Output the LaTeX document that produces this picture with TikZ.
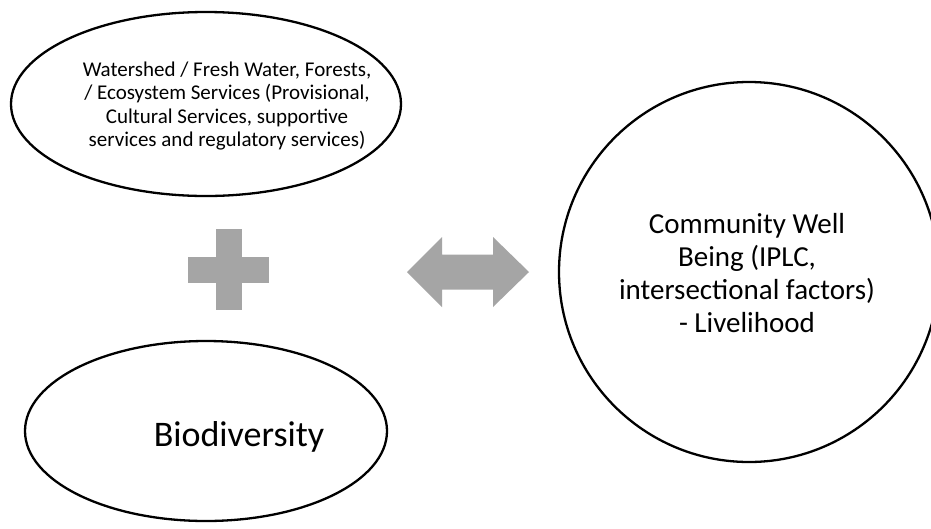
\documentclass[tikz,border=0pt]{standalone}
\usepackage{fontspec}
\setmainfont{Carlito}
\usetikzlibrary{shapes.geometric}
\definecolor{sagray}{HTML}{A5A5A5}
\tikzset{
  outline/.style={draw=black, line width=2.3pt, fill=white, inner sep=0pt},
  oval/.style={outline, ellipse},
  rund/.style={outline, circle},
  txt/.style={align=center, inner sep=0pt, text=black},
  symb/.style={fill=sagray, draw=none}
}
\begin{document}
\begin{tikzpicture}[x=1pt,y=-1pt]
\useasboundingbox (0,0) rectangle (931,528);
\clip (0,0) rectangle (931,528);
\fill[white] (0,0) rectangle (931,528);
% top ellipse
\node[oval, minimum width=390pt, minimum height=184pt] (top) at (206,104) {};
\node[txt, font=\fontsize{21}{23.4}\selectfont] (toptext) at (227,106)
  {Watershed / Fresh Water, Forests,\\/ Ecosystem Services (Provisional,\\Cultural Services, supportive\\services and regulatory services)};
% bottom ellipse
\node[oval, minimum width=362pt, minimum height=180pt] (bot) at (206,431) {};
\node[txt, font=\fontsize{36}{43}\selectfont, anchor=base] (bottext) at (239,446) {Biodiversity};
% circle
\node[rund, minimum size=380pt] (circ) at (749,272) {};
\node[txt, font=\fontsize{29}{33}\selectfont] (circtext) at (747,273)
  {Community Well\\Being (IPLC,\\intersectional factors)\\- Livelihood};
% plus
\coordinate (plus) at (229,269.5);
\fill[symb] (216,229) rectangle (242,310);
\fill[symb] (188,257) rectangle (269,283);
% double arrow
\coordinate (dbl) at (468,272);
\fill[symb] (407,272) -- (442,237) -- (442,254.5) -- (493,254.5) -- (493,237)
  -- (529,272) -- (493,307) -- (493,289.5) -- (442,289.5) -- (442,307) -- cycle;
\end{tikzpicture}
\end{document}
